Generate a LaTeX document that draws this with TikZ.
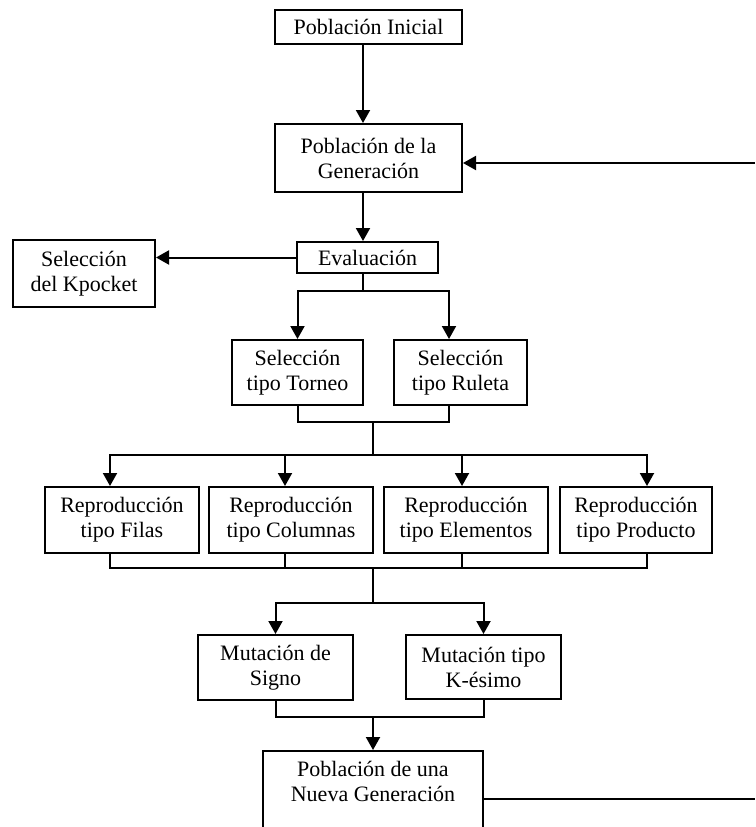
\documentclass[tikz,border=0pt]{standalone}
\usepackage{fontspec}
\setmainfont{Liberation Serif}
\usetikzlibrary{arrows.meta,calc}

\tikzset{
  box/.style={draw, line width=2pt, align=center, inner sep=0pt,
    font=\fontsize{22}{25}\selectfont},
  link/.style={line width=2pt},
  arr/.style={link, -{Triangle[width=14pt,length=13pt]}},
}

\begin{document}
\begin{tikzpicture}[x=1pt, y=-1pt]
  \clip (0,0) rectangle (755,827);

  % boxes
  \node[box, minimum width=187, minimum height=34] (ini) at (368.5,27) {Población Inicial};
  \node[box, minimum width=187, minimum height=68] (gen) at (368.5,158) {Población de la\\Generación};
  \node[box, minimum width=141, minimum height=31] (eva) at (367.5,257.5) {Evaluación};
  \node[box, minimum width=142, minimum height=67] (kpo) at (84,273.5) {Selección\\del Kpocket};
  \node[box, minimum width=131, minimum height=65] (tor) at (297.5,372.5) {Selección\\tipo Torneo};
  \node[box, minimum width=133, minimum height=65] (rul) at (460.5,372.5) {Selección\\tipo Ruleta};
  \node[box, minimum width=154, minimum height=66] (fil) at (122,520) {Reproducción\\tipo Filas};
  \node[box, minimum width=164, minimum height=66] (col) at (291,520) {Reproducción\\tipo Columnas};
  \node[box, minimum width=164, minimum height=66] (ele) at (466,520) {Reproducción\\tipo Elementos};
  \node[box, minimum width=152, minimum height=66] (pro) at (636,520) {Reproducción\\tipo Producto};
  \node[box, minimum width=155, minimum height=65] (sig) at (275.5,667.5) {Mutación de\\Signo};
  \node[box, minimum width=155, minimum height=64] (kes) at (483.5,667) {Mutación tipo\\K-ésimo};
  \node[box, minimum width=220, minimum height=94, anchor=north] (nue) at (373,750)
    {Población de una\\Nueva Generación\\\strut};

  % junction points
  \coordinate (b1) at (363,291);
  \coordinate (j1) at (373,422);
  \coordinate (b2) at (373,455);
  \coordinate (cf) at (110,455);
  \coordinate (cc) at (285,455);
  \coordinate (ce) at (462,455);
  \coordinate (cp) at (647,455);
  \coordinate (rx) at (449,291);
  \coordinate (j2) at (373,568);
  \coordinate (b3) at (373,603);
  \coordinate (j3) at (373,717);
  \coordinate (lt) at (755,163);
  \coordinate (lb) at (755,799);

  % main flow
  \draw[arr] ([xshift=-5.5pt]ini.south) -- ([xshift=-5.5pt]gen.north);
  \draw[arr] ([xshift=-5.5pt]gen.south) coordinate (g1) -- (g1 |- eva.north);
  \draw[arr] (eva.west) -- (eva.west -| kpo.east);

  % selection branch
  \draw[link] (b1 |- eva.south) -- (b1);
  \draw[arr] (b1) -| (tor.north);
  \draw[arr] (b1) -| (rx |- rul.north);
  \draw[link] (tor.south) |- (j1);
  \draw[link] (rx |- rul.south) |- (j1);
  \draw[link] (j1) -- (b2);

  % reproduction branch
  \draw[arr] (b2) -| (cf |- fil.north);
  \draw[arr] (b2) -| (cc |- col.north);
  \draw[arr] (b2) -| (ce |- ele.north);
  \draw[arr] (b2) -| (cp |- pro.north);
  \draw[link] (cf |- fil.south) |- (j2);
  \draw[link] (cc |- col.south) |- (j2);
  \draw[link] (ce |- ele.south) |- (j2);
  \draw[link] (cp |- pro.south) |- (j2);
  \draw[link] (j2) -- (b3);

  % mutation branch
  \draw[arr] (b3) -| (sig.north);
  \draw[arr] (b3) -| (kes.north);
  \draw[link] (sig.south) |- (j3);
  \draw[link] (kes.south) |- (j3);
  \draw[arr] (j3) -- (nue.north);

  % feedback to the next generation
  \draw[link] (nue.east |- lb) -- (lb);
  \draw[arr] (lt) -- (lt -| gen.east);
\end{tikzpicture}
\end{document}
